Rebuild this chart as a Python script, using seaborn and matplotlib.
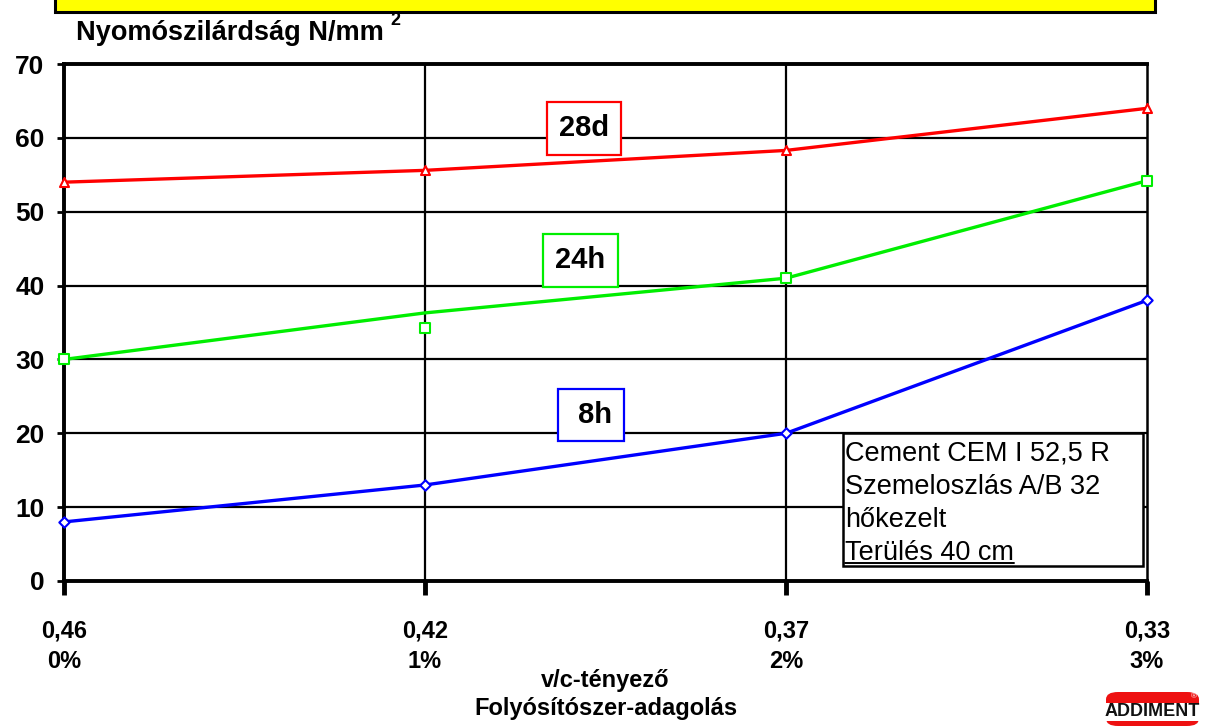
import matplotlib
matplotlib.use("Agg")
import matplotlib.pyplot as plt
from matplotlib.patches import Rectangle, FancyBboxPatch
import numpy as np
import pandas as pd
import seaborn as sns

# --- data -------------------------------------------------------------
wc_ratio = ["0,46", "0,42", "0,37", "0,33"]
dosage = ["0%", "1%", "2%", "3%"]
series_names = ["28d", "24h", "8h"]

strength_28d = [54.0, 55.6, 58.3, 64.0]
strength_24h_curve = [30.0, 36.3, 41.0, 54.2]
strength_24h_points = [30.0, 34.2, 41.0, 54.2]
strength_8h = [8.0, 13.0, 20.0, 38.0]

info_lines = ["Cement CEM I 52,5 R", "Szemeloszlás A/B 32", "hőkezelt"]
info_last = "Terülés 40 cm"

# --- style ------------------------------------------------------------
sns.set_theme(style="white")
plt.rcParams["font.family"] = ["Liberation Sans", "DejaVu Sans"]
plt.rcParams["text.color"] = "black"
plt.rcParams["axes.labelcolor"] = "black"
plt.rcParams["xtick.color"] = "black"
plt.rcParams["ytick.color"] = "black"

W, H = 1208, 726
fig = plt.figure(figsize=(W / 100, H / 100), dpi=100)
ax = fig.add_axes([64 / W, 1 - 581 / H, (1147 - 64) / W, (581 - 64) / H])

idx = np.arange(len(wc_ratio))
curves = pd.DataFrame({
    "pos": np.tile(idx, 3),
    "value": strength_28d + strength_24h_curve + strength_8h,
    "series": np.repeat(series_names, len(idx)),
})
points = pd.DataFrame({
    "pos": np.tile(idx, 3),
    "value": strength_28d + strength_24h_points + strength_8h,
    "series": np.repeat(series_names, len(idx)),
})
palette = {"28d": "#ff0000", "24h": "#00ee00", "8h": "#0000ff"}
markers = {"28d": "^", "24h": "s", "8h": "D"}

# grid first so the curves sit on top
ax.set_xlim(0, 3)
ax.set_ylim(0, 70)
ax.set_yticks(np.arange(0, 71, 10))
ax.set_xticks(idx)
for yv in range(10, 70, 10):
    ax.axhline(yv, color="black", lw=1.6, zorder=1)
for xv in idx[1:3]:
    ax.axvline(xv, color="black", lw=1.6, zorder=1)

sns.lineplot(data=curves, x="pos", y="value", hue="series", palette=palette,
             hue_order=series_names, lw=2.4, legend=False, ax=ax, zorder=3,
             estimator=None)
for name in series_names:
    sub = points[points["series"] == name]
    sns.scatterplot(data=sub, x="pos", y="value", marker=markers[name],
                    s=42 if name != "8h" else 28, facecolor="white",
                    edgecolor=palette[name], linewidth=1.5, ax=ax, zorder=4,
                    clip_on=False, legend=False)

# axes and ticks
for side in ["left", "bottom", "top"]:
    ax.spines[side].set_linewidth(2.8)
    ax.spines[side].set_color("black")
ax.spines["right"].set_linewidth(1.8)
ax.spines["right"].set_color("black")
ax.tick_params(axis="y", direction="out", length=5, width=2, left=True,
               labelsize=19, pad=9)
ax.tick_params(axis="x", direction="out", length=10, width=3.5, bottom=True,
               labelsize=17, pad=18)
for lab in ax.get_yticklabels():
    lab.set_fontweight("bold")
ax.set_xticklabels([f"{a}\n{b}" for a, b in zip(wc_ratio, dosage)],
                   fontweight="bold", linespacing=1.38)
ax.set_ylabel("")
ax.set_xlabel("v/c-tényező\nFolyósítószer-adagolás", fontsize=17,
              fontweight="bold", linespacing=1.3, labelpad=-3)

# series labels in framed boxes
label_pos = {"28d": (1.44, 61.3), "24h": (1.43, 43.4), "8h": (1.46, 22.5)}
label_txt = {"28d": "28d", "24h": "24h", "8h": " 8h"}
for name in series_names:
    x, y = label_pos[name]
    ax.text(x, y, label_txt[name], ha="center", va="center", fontsize=21,
            fontweight="bold", zorder=5,
            bbox=dict(boxstyle="square,pad=0.42", fc="white",
                      ec=palette[name], lw=1.6))

# info box
ax.add_patch(Rectangle((2.158, 2.0), 3 - 0.012 - 2.158, 18.0, fc="white",
                       ec="black", lw=1.8, zorder=5))
for i, line in enumerate(info_lines):
    ax.text(2.164, 17.2 - i * 4.47, line, fontsize=19.5, va="center",
            ha="left", zorder=6)
last = ax.text(2.164, 17.2 - 3 * 4.47, info_last, fontsize=19.5, va="center",
               ha="left", zorder=6)
fig.canvas.draw()
bb = last.get_window_extent()
fig.add_artist(plt.Line2D([bb.x0 / W, bb.x1 / W], [(bb.y0 + 3) / H] * 2,
                          color="black", lw=1.4))

# y-axis title with raised exponent
ytitle = fig.text(76 / W, 1 - 33 / H, "Nyomószilárdság N/mm",
                  fontsize=19.5, fontweight="bold", va="center", ha="left")
fig.canvas.draw()
tb = ytitle.get_window_extent()
fig.text((tb.x1 + 7) / W, (tb.y1 - 9) / H, "2", fontsize=13,
         fontweight="bold", va="bottom", ha="left")

# banner strip at the top edge
fig.add_artist(Rectangle((55 / W, 1 - 12 / H), (1155 - 55) / W, 20 / H,
                         transform=fig.transFigure, fc="#ffff00", ec="black",
                         lw=2.2))

# company logo
fig.add_artist(FancyBboxPatch((1106 / W, 1 - 726 / H), 93 / W, 34 / H,
                              boxstyle="round,pad=0,rounding_size=0.01",
                              transform=fig.transFigure, fc="#ee1111",
                              ec="none"))
fig.add_artist(Rectangle((1104 / W, 1 - 721 / H), 97 / W, 18 / H,
                         transform=fig.transFigure, fc="white", ec="none"))
fig.text(1152 / W, 1 - 712 / H, "ADDIMENT", fontsize=13, fontweight="bold",
         ha="center", va="center", color="#111111")
fig.text(1194 / W, 1 - 697 / H, "®", fontsize=6, ha="center", va="center",
         color="white")

fig.savefig("out.png", dpi=100, facecolor="white")
